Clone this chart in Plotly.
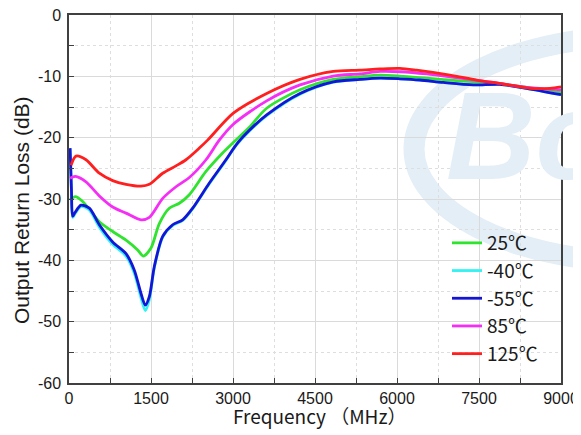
import plotly.graph_objects as go

# ---------------- data ----------------
freq_55 = [20, 45, 67, 110, 220, 372, 555, 799, 1043, 1195, 1317, 1396, 1470, 1561, 1714, 1897,
           2079, 2262, 2567, 2871, 3054, 3300, 3616, 4226, 4835, 5323, 5689, 6054, 6420, 6846,
           7395, 7883, 8371, 9000]
rl_55 = [-21.7, -28.5, -32.8, -32.2, -31.0, -31.5, -34.2, -37.0, -38.9, -41.6, -45.4, -47.3,
         -45.9, -41.0, -36.1, -34.2, -33.4, -31.5, -27.4, -23.6, -21.2, -18.8, -16.3, -12.8,
         -10.9, -10.5, -10.3, -10.4, -10.6, -11.0, -11.4, -11.3, -11.95, -13.0]

freq_40 = [20, 45, 67, 110, 220, 372, 555, 799, 1043, 1195, 1317, 1396, 1470, 1561, 1714, 1897,
           2079, 2262, 2567, 2871, 3054, 3300, 3616, 4226, 4835, 5323, 5689, 6054, 6420, 6846,
           7395, 7883, 8371, 9000]
rl_40 = [-21.8, -28.6, -33.0, -32.4, -31.2, -31.8, -34.6, -37.4, -39.3, -42.1, -46.1, -48.2,
         -46.4, -41.2, -36.2, -34.3, -33.5, -31.6, -27.5, -23.7, -21.3, -18.9, -16.4, -12.9,
         -10.95, -10.5, -10.3, -10.4, -10.6, -11.0, -11.4, -11.3, -11.95, -13.0]

freq_25 = [20, 116, 250, 433, 555, 799, 1043, 1256, 1360, 1500, 1652, 1835, 2018, 2201, 2506,
           2810, 2993, 3300, 3616, 4226, 4835, 5323, 5689, 6054, 6542, 7152, 7762, 8371, 9000]
rl_25 = [-30.1, -29.6, -30.4, -32.4, -33.7, -35.3, -36.7, -38.3, -39.3, -38.0, -34.0, -31.5,
         -30.7, -29.3, -25.5, -22.5, -20.9, -18.3, -15.2, -12.2, -10.5, -10.05, -9.8, -9.95,
         -10.3, -10.75, -11.1, -11.8, -12.65]

freq_85 = [20, 116, 311, 555, 799, 1043, 1317, 1470, 1714, 1957, 2201, 2506, 2749, 3006, 3616,
           4226, 4835, 5323, 5689, 6054, 6542, 7152, 7762, 8371, 9000]
rl_85 = [-26.6, -26.3, -27.2, -29.5, -31.3, -32.3, -33.4, -33.0, -29.9, -28.0, -26.5, -23.6,
         -20.4, -17.8, -14.0, -11.4, -9.95, -9.6, -9.2, -9.25, -9.6, -10.3, -11.0, -11.8, -12.2]

freq_125 = [37, 128, 311, 555, 799, 1043, 1317, 1470, 1714, 1957, 2140, 2384, 2536, 3006, 3616,
            4226, 4835, 5323, 5689, 6054, 6359, 6969, 7457, 7944, 8432, 8800, 9000]
rl_125 = [-24.5, -23.0, -23.6, -25.8, -27.0, -27.6, -27.9, -27.6, -25.8, -24.6, -23.6, -21.7,
          -20.4, -16.0, -12.8, -10.5, -9.2, -9.0, -8.8, -8.7, -9.0, -9.8, -10.6, -11.25, -11.95,
          -11.95, -11.7]

series_names = ["25\u2103", "-40\u2103", "-55\u2103", "85\u2103", "125\u2103"]
series_freq = [freq_25, freq_40, freq_55, freq_85, freq_125]
series_rl = [rl_25, rl_40, rl_55, rl_85, rl_125]
series_colors = ["#2fe32f", "#33f2f2", "#1515d6", "#f52ef5", "#ff1f1f"]

x_ticks = [0, 1500, 3000, 4500, 6000, 7500, 9000]
y_ticks = [0, -10, -20, -30, -40, -50, -60]

x_title = "Frequency \uff08MHz\uff09"
y_title = "Output Return Loss (dB)"

# ---------------- figure ----------------
fig = go.Figure()
for name, fx, ry, col in zip(series_names, series_freq, series_rl, series_colors):
    fig.add_trace(go.Scatter(
        x=fx, y=ry, name=name, mode="lines",
        line=dict(color=col, width=2.8, shape="spline", smoothing=0.8),
        legendgroup=name,
    ))

# the page body has an 8px default margin: size the figure so the plot lands
# where the reference has it inside the 581x435 window
OFF = 8
W, H = 581 - OFF, 435 - OFF
PL, PR, PT, PB = 69, 561, 15, 383          # plot area in page pixels
ML, MT = PL - OFF, PT - OFF
MR, MB = (W + OFF) - PR, (H + OFF) - PB
PW, PH = PR - PL, PB - PT


def px_x(p):
    return (p - PL) / PW


def px_y(p):
    return (PB - p) / PH


wm = "#e4eef6"
fig.add_shape(type="circle", xref="paper", yref="paper",
              x0=px_x(414), x1=px_x(866), y0=px_y(262), y1=px_y(36),
              line=dict(color=wm, width=21), layer="below")
fig.add_annotation(text="Bo", xref="paper", yref="paper", x=px_x(444), y=px_y(136),
                   xanchor="left", yanchor="middle", showarrow=False,
                   font=dict(family="Liberation Sans", size=124, color=wm,
                             weight="bold", style="italic"))

# axis titles placed as annotations for exact positioning
fig.add_annotation(text=x_title, xref="paper", yref="paper", x=px_x(319), y=px_y(415),
                   xanchor="center", yanchor="middle", showarrow=False,
                   font=dict(family="Noto Sans CJK SC", size=19, color="#1a1a1a"))
fig.add_annotation(text=y_title, xref="paper", yref="paper", x=px_x(21), y=px_y(210),
                   xanchor="center", yanchor="middle", showarrow=False, textangle=-90,
                   font=dict(family="Liberation Sans, Arial", size=21, color="#1a1a1a"))

axis_col = "#404040"
tick_font = dict(family="Liberation Sans, Arial", size=16, color="#1a1a1a")

fig.update_xaxes(
    range=[0, 9000], tickvals=x_ticks, ticktext=[str(v) for v in x_ticks],
    ticks="inside", ticklen=5, tickcolor=axis_col, tickwidth=1,
    showline=True, linecolor=axis_col, linewidth=1.5, mirror=True,
    showgrid=True, gridcolor="#dadada", gridwidth=1, zeroline=False,
    minor=dict(dtick=750, tick0=0, ticks="inside", ticklen=5, tickcolor=axis_col,
               showgrid=True, griddash="dot", gridcolor="#dedede", gridwidth=1),
    tickfont=tick_font, ticklabeloverflow="allow",
)
fig.update_yaxes(
    range=[-60, 0], tickvals=y_ticks, ticktext=[str(v) for v in y_ticks],
    ticks="inside", ticklen=5, tickcolor=axis_col, tickwidth=1,
    showline=True, linecolor=axis_col, linewidth=1.5, mirror=True,
    showgrid=True, gridcolor="#dadada", gridwidth=1, zeroline=False,
    minor=dict(dtick=5, tick0=0, ticks="inside", ticklen=5, tickcolor=axis_col,
               showgrid=True, griddash="dot", gridcolor="#dedede", gridwidth=1),
    tickfont=tick_font, ticklabelstandoff=3, ticklabeloverflow="allow",
)

fig.update_layout(
    width=W, height=H,
    margin=dict(l=ML, r=MR, t=MT, b=MB, autoexpand=False),
    paper_bgcolor="white", plot_bgcolor="rgba(0,0,0,0)",
    showlegend=True,
    legend=dict(x=px_x(447), y=px_y(224), xanchor="left", yanchor="top",
                bgcolor="rgba(0,0,0,0)", borderwidth=0,
                traceorder="grouped", tracegroupgap=0,
                font=dict(family="Noto Sans CJK SC", size=19, color="#1a1a1a")),
)

fig.write_html("out.html")
